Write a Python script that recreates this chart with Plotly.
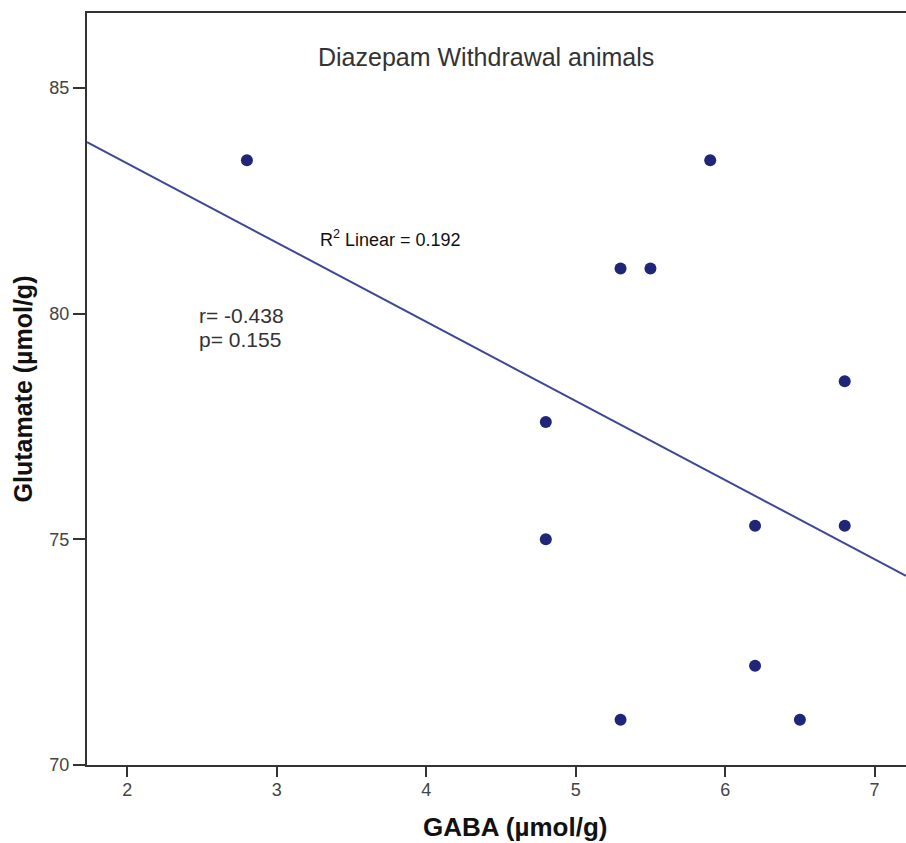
import numpy as np
import plotly.graph_objects as go

gaba = [2.8, 5.9, 5.3, 5.5, 6.8, 4.8, 4.8, 6.2, 6.8, 6.2, 5.3, 6.5]
glutamate = [83.4, 83.4, 81.0, 81.0, 78.5, 77.6, 75.0, 75.3, 75.3, 72.2, 71.0, 71.0]
x_ticks = [2, 3, 4, 5, 6, 7]
y_ticks = [70, 75, 80, 85]
x_range = [1.73, 7.21]
y_range = [70, 86.66]

slope, intercept = np.polyfit(gaba, glutamate, 1)
line_x = np.array(x_range)
line_y = slope * line_x + intercept

FONT = "Liberation Sans, Arial, sans-serif"
AX = "#333333"

fig = go.Figure()
fig.add_trace(go.Scatter(x=line_x, y=line_y, mode="lines",
                         line=dict(color="#3d4795", width=2), hoverinfo="skip"))
fig.add_trace(go.Scatter(x=gaba, y=glutamate, mode="markers",
                         marker=dict(color="#1f2577", size=12)))

fig.update_layout(
    width=906, height=843,
    margin=dict(l=87, r=0, t=13, b=78),
    plot_bgcolor="white", paper_bgcolor="white",
    showlegend=False,
    font=dict(family=FONT, color=AX),
)
fig.update_xaxes(range=x_range, tickvals=x_ticks, showgrid=False, zeroline=False,
                 showline=True, linecolor=AX, linewidth=2, mirror=True,
                 ticks="outside", ticklen=10, tickwidth=2, tickcolor=AX,
                 ticklabelstandoff=-3,
                 tickfont=dict(size=18, color="#444"))
fig.update_yaxes(range=y_range, tickvals=y_ticks, showgrid=False, zeroline=False,
                 showline=True, linecolor=AX, linewidth=2,
                 ticks="outside", ticklen=12, tickwidth=2, tickcolor=AX,
                 tickfont=dict(size=18, color="#444"),
                 title=dict(text="<b>Glutamate (µmol/g)</b>", font=dict(size=25, color="#111"), standoff=10))

fig.add_annotation(x=515, y=827, text="<b>GABA (µmol/g)</b>", borderpad=0,
                   showarrow=False, font=dict(size=26, color="#111"))
fig.add_annotation(x=486, y=57, text="Diazepam Withdrawal animals",
                   showarrow=False, font=dict(size=25, color="#333"))
fig.add_annotation(text="R<sup>2</sup> Linear = 0.192", x=318, y=239, showarrow=False,
                   xanchor="left", font=dict(size=18, color="#111"))
fig.add_annotation(text="r= -0.438", x=197, y=315, showarrow=False,
                   xanchor="left", font=dict(size=21, color="#333"))
fig.add_annotation(text="p= 0.155", x=197, y=339, showarrow=False,
                   xanchor="left", font=dict(size=21, color="#333"))

# convert pixel annotation positions to paper coords
pw, ph = 906 - 87, 843 - 13 - 78
for a in fig.layout.annotations:
    a.xref = "paper"; a.yref = "paper"
    a.yanchor = "middle"
    a.x = (a.x - 87) / pw
    a.y = 1 - (a.y - 13) / ph

fig.write_html("out.html")
